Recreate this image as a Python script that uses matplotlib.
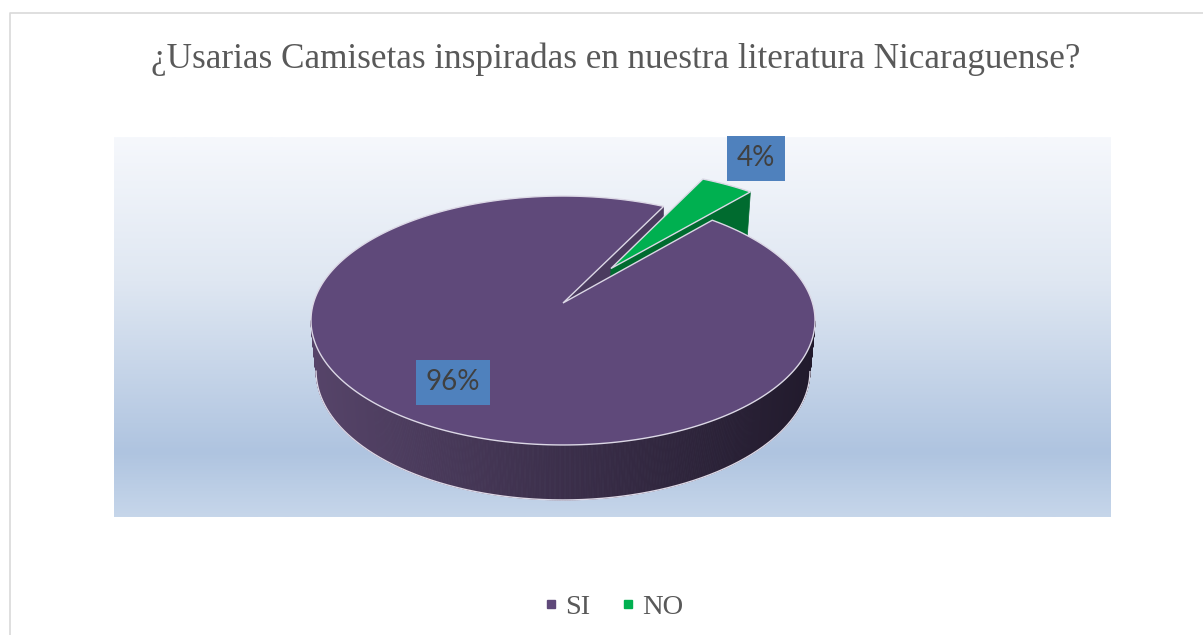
import numpy as np
import matplotlib
matplotlib.use("Agg")
import matplotlib.pyplot as plt
from matplotlib.colors import to_rgb
from matplotlib.patches import Polygon
from matplotlib.lines import Line2D

# data
title = "¿Usarias Camisetas inspiradas en nuestra literatura Nicaraguense?"
categories = ["SI", "NO"]
values = [96, 4]
labels = ["96%", "4%"]

top_colors = ["#5f497a", "#00b050"]
face_colors = ["#4b3b5f", "#006b2f"]
explode = [0.0, 0.356]
first_angle = 41.4          # degrees, clockwise from 12 o'clock
label_r = [0.72, 1.28]
label_dy = [0, -6]

# 3d pie projection (pixel space)
CX, CY = 563, 303
A, B, H = 249.5, 122.0, 51.2
P, Q = 0.1406, 0.02


def proj(X, Y, z):
    s = 1.0 / (1.0 - P * np.asarray(Y) + Q * z)
    return CX + A * np.asarray(X) * s, CY + (B * np.asarray(Y) + H * z) * s


def lerp_color(c1, c2, t):
    a, b = np.array(to_rgb(c1)), np.array(to_rgb(c2))
    return tuple(a + (b - a) * t)


fig = plt.figure(figsize=(12.03, 6.35), dpi=100)
ax = fig.add_axes([0, 0, 1, 1])
ax.set_xlim(0, 1203)
ax.set_ylim(635, 0)
ax.axis("off")

# chart border
ax.plot([10, 10, 1203], [635, 13, 13], color="#d9d9d9", lw=1.2)

# plot area gradient
stops = [(0.0, "#f6f8fc"), (0.38, "#dfe7f2"), (0.83, "#afc4e0"), (1.0, "#c6d6ea")]
ys = np.linspace(0, 1, 300)
grad = np.zeros((300, 1, 3))
for k, t in enumerate(ys):
    for (t0, c0), (t1, c1) in zip(stops[:-1], stops[1:]):
        if t0 <= t <= t1:
            grad[k, 0] = lerp_color(c0, c1, (t - t0) / (t1 - t0))
            break
ax.imshow(grad, extent=[114, 1111, 517, 137], aspect="auto", zorder=0)

total = sum(values)
cam = np.array([0.0, 1.0 / P])
slices = []
for i, v in enumerate(values):
    start = first_angle + 360.0 * sum(values[:i]) / total
    end = start + 360.0 * v / total
    mid = np.radians((start + end) / 2)
    ox, oy = explode[i] * np.sin(mid), -explode[i] * np.cos(mid)
    n = max(int(end - start) * 3, 20)
    th = np.radians(np.linspace(start, end, n))
    slices.append(dict(start=np.radians(start), end=np.radians(end), mid=mid,
                       ox=ox, oy=oy, th=th, X=ox + np.sin(th), Y=oy - np.cos(th)))


def draw_faces(i, z):
    s = slices[i]
    X, Y, th = s["X"], s["Y"], s["th"]
    # outer side
    bx, by = [], []
    for k in range(len(th) - 1):
        tm = (th[k] + th[k + 1]) / 2
        nrm = np.array([np.sin(tm), -np.cos(tm)])
        pt = np.array([(X[k] + X[k + 1]) / 2, (Y[k] + Y[k + 1]) / 2])
        if np.dot(nrm, cam - pt) <= 0:
            continue
        xt, yt = proj(X[k:k + 2], Y[k:k + 2], 0)
        xb, yb = proj(X[k:k + 2], Y[k:k + 2], 1)
        tcol = np.clip((xt.mean() - 311) / (815 - 311), 0, 1)
        col = lerp_color("#564469", "#211a2c", tcol)
        ax.add_patch(Polygon(list(zip(xt, yt)) + list(zip(xb[::-1], yb[::-1])),
                             closed=True, fc=col, ec=col, lw=0.6, zorder=z))
        bx += list(xb)
        by += list(yb)
    if bx:
        ax.plot(bx, by, color="#dcd8e6", lw=1.0, zorder=z + 0.1)
    # radial faces
    apex = np.array([s["ox"], s["oy"]])
    for ang, sign in [(s["start"], -1), (s["end"], 1)]:
        nrm = sign * np.array([np.cos(ang), np.sin(ang)])
        if np.dot(nrm, cam - apex) <= 0:
            continue
        rx, ry = apex[0] + np.sin(ang), apex[1] - np.cos(ang)
        pts = [proj(apex[0], apex[1], 0), proj(rx, ry, 0),
               proj(rx, ry, 1), proj(apex[0], apex[1], 1)]
        ax.add_patch(Polygon([(float(a), float(b)) for a, b in pts], closed=True,
                             fc=face_colors[i], ec=face_colors[i], lw=0.5, zorder=z + 0.2))


def draw_top(i, z):
    s = slices[i]
    xa, ya = proj(s["ox"], s["oy"], 0)
    xr, yr = proj(s["X"], s["Y"], 0)
    pts = [(float(xa), float(ya))] + list(zip(xr, yr))
    ax.add_patch(Polygon(pts, closed=True, fc=top_colors[i], ec="#dcd8e6",
                         lw=1.0, zorder=z))


# painter's order: base slice faces, exploded slice, then base top last
draw_faces(0, 2)
draw_faces(1, 3)
draw_top(1, 4)
draw_top(0, 5)

# data labels
for i, s in enumerate(slices):
    lx = s["ox"] + label_r[i] * np.sin(s["mid"])
    ly = s["oy"] - label_r[i] * np.cos(s["mid"])
    px, py = proj(lx, ly, 0)
    ax.text(float(px), float(py) + label_dy[i], labels[i], ha="center", va="center",
            fontsize=20, family="Lato", color="#404040", zorder=6,
            bbox=dict(boxstyle="square,pad=0.35", fc="#4f81bd", ec="none"))

# title
ax.text(616, 59, title, ha="center", va="center", fontsize=25.3,
        family="Liberation Serif", color="#595959")

# legend
handles = [Line2D([], [], marker="s", ls="none", markersize=6,
                  color=c, label=lab) for c, lab in zip(top_colors, categories)]
leg = fig.legend(handles=handles, loc="center", ncol=2, frameon=False,
                 bbox_to_anchor=(610 / 1203, 1 - 607 / 635),
                 prop={"family": "Liberation Serif", "size": 20.5},
                 handletextpad=0.0, columnspacing=0.8, handlelength=1.0)
for t in leg.get_texts():
    t.set_color("#595959")

fig.savefig("out.png", dpi=100)
